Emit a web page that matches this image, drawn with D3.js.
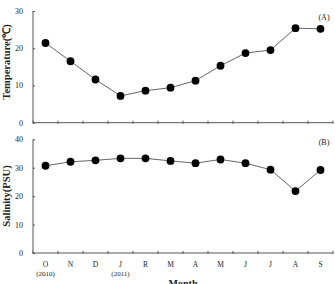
<!DOCTYPE html>
<html>
<head>
<meta charset="utf-8">
<script src="https://cdn.jsdelivr.net/npm/d3@7"></script>
<style>
  body { margin: 0; background: #fff; }
  svg { display: block; }
  text { font-family: "Liberation Serif", "Times New Roman", serif; fill: #222; }
</style>
</head>
<body>
<svg id="chart"></svg>
<script>
const months = ["O", "N", "D", "J", "R", "M", "A", "M", "J", "J", "A", "S"];
const years = ["(2010)", "", "", "(2011)", "", "", "", "", "", "", "", ""];
const temperature = [21.4, 16.5, 11.6, 7.2, 8.6, 9.4, 11.3, 15.3, 18.7, 19.5, 25.4, 25.2];
const salinity = [30.7, 32.1, 32.6, 33.3, 33.3, 32.4, 31.6, 32.9, 31.6, 29.3, 21.8, 29.2];
const tempTicks = [0, 10, 20, 30];
const salTicks = [0, 10, 20, 30, 40];

const width = 335, height = 284;
const svg = d3.select("#chart").attr("width", width).attr("height", height);

const x = d3.scaleBand().domain(d3.range(months.length)).range([33, 333]);

const panels = [
  { values: temperature, ticks: tempTicks, domain: [0, 30], range: [122.7, 11], label: "Temperature(\u2103)", labelY: 62, tag: "(A)", tagY: 20 },
  { values: salinity, ticks: salTicks, domain: [0, 40], range: [253, 139.3], label: "Salinity(PSU)", labelY: 196, tag: "(B)", tagY: 145 }
];

panels.forEach(function (p, pi) {
  const y = d3.scaleLinear().domain(p.domain).range(p.range);
  const g = svg.append("g");

  // y axis, ticks pointing inward
  const yAxis = g.append("g")
    .attr("transform", "translate(33,0)")
    .call(d3.axisRight(y).tickValues(p.ticks).tickSize(2).tickFormat(""));
  yAxis.select(".domain").remove();
  yAxis.selectAll("line").attr("stroke", "#555");
  g.append("line")
    .attr("x1", 33).attr("x2", 33)
    .attr("y1", y(p.domain[0])).attr("y2", y(p.domain[1]))
    .attr("stroke", "#555").attr("stroke-width", 1);

  g.selectAll(".ylab")
    .data(p.ticks)
    .enter().append("text")
    .attr("x", 23)
    .attr("y", d => y(d) + 3)
    .attr("text-anchor", "end")
    .attr("font-size", 8)
    .text(d => d);

  // x axis, category boundaries as small ticks
  const y0 = y(p.domain[0]);
  g.append("line")
    .attr("x1", 33).attr("x2", 333)
    .attr("y1", y0).attr("y2", y0)
    .attr("stroke", "#555").attr("stroke-width", 1);
  g.selectAll(".xt")
    .data(d3.range(months.length + 1))
    .enter().append("line")
    .attr("x1", d => 33 + d * x.step()).attr("x2", d => 33 + d * x.step())
    .attr("y1", y0 - 2).attr("y2", y0 + 1)
    .attr("stroke", "#555");

  // line and markers
  const line = d3.line()
    .x((d, i) => x(i) + x.bandwidth() / 2)
    .y(d => y(d));
  g.append("path")
    .datum(p.values)
    .attr("d", line)
    .attr("fill", "none")
    .attr("stroke", "#666")
    .attr("stroke-width", 1);
  g.selectAll("circle")
    .data(p.values)
    .enter().append("circle")
    .attr("cx", (d, i) => x(i) + x.bandwidth() / 2)
    .attr("cy", d => y(d))
    .attr("r", 3.9)
    .attr("fill", "#000");

  // axis title
  g.append("text")
    .attr("transform", `translate(10,${p.labelY}) rotate(-90)`)
    .attr("text-anchor", "middle")
    .attr("font-size", 10.5)
    .attr("font-weight", "bold")
    .text(p.label);

  g.append("text")
    .attr("x", 324).attr("y", p.tagY)
    .attr("text-anchor", "middle")
    .attr("font-size", 8)
    .text(p.tag);

  if (pi === 1) {
    g.selectAll(".mlab")
      .data(months)
      .enter().append("text")
      .attr("x", (d, i) => x(i) + x.bandwidth() / 2)
      .attr("y", 267)
      .attr("text-anchor", "middle")
      .attr("font-size", 7.5)
      .text(d => d);
    g.selectAll(".ylab2")
      .data(years)
      .enter().append("text")
      .attr("x", (d, i) => x(i) + x.bandwidth() / 2)
      .attr("y", 276)
      .attr("text-anchor", "middle")
      .attr("font-size", 7)
      .text(d => d);
    g.append("text")
      .attr("x", 183).attr("y", 287)
      .attr("text-anchor", "middle")
      .attr("font-size", 10)
      .attr("font-weight", "bold")
      .text("Month");
  }
});
</script>
</body>
</html>
